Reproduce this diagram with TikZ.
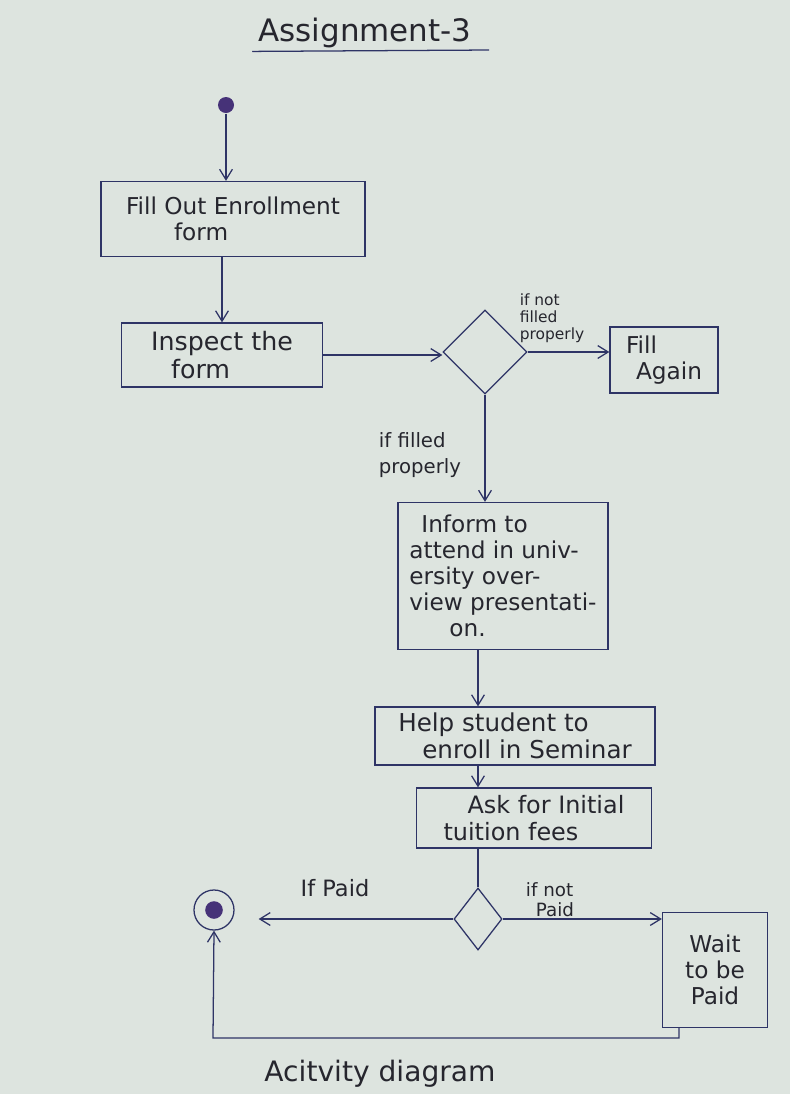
\documentclass[tikz,border=0pt]{standalone}
\usepackage{fontspec}
\setmainfont{DejaVu Sans}
\usetikzlibrary{shapes.geometric,arrows.meta}
\definecolor{paper}{RGB}{221,228,223}
\definecolor{ink}{RGB}{46,52,102}
\definecolor{pen}{RGB}{38,38,46}
\definecolor{dot}{RGB}{70,50,120}
\begin{document}
\begin{tikzpicture}[x=0.025cm,y=-0.025cm,
        >={Straight Barb[length=2.6mm,width=3.2mm]},
        line width=0.9pt,
        act node/.style={rectangle,draw=ink,text=pen,inner sep=3pt,align=left,
                         font=\fontsize{16.5}{18.5}\selectfont},
        decision/.style={diamond,draw=ink,inner sep=0pt,aspect=1},
        guard/.style={text=pen,align=left,inner sep=0pt},
        flow/.style={draw=ink,->}]

        \fill[paper] (0,0) rectangle (790,1094);
        \useasboundingbox (0,0) rectangle (790,1094);

        % Title
        \node[guard,font=\fontsize{22}{26}\selectfont] (title) at (365,33) {Assignment-3};
        \draw[ink] ([xshift=-4pt,yshift=-2pt]title.south west) -- ([xshift=12pt,yshift=-1pt]title.south east);

        % Define vertices
        \node[circle,fill=dot,minimum size=0.4cm,inner sep=0pt] (start) at (226,105) {};
        \node[act node,minimum width=6.6cm,minimum height=1.875cm] (fill) at (233,219)
            {Fill Out Enrollment\\\hspace*{1.2cm}form};
        \node[act node,minimum width=5.025cm,minimum height=1.6cm,font=\fontsize{18}{20}\selectfont] (inspect) at (222,355)
            {Inspect the\\\hspace*{0.5cm}form};
        \node[decision,minimum size=2.1cm] (check) at (485,352) {};
        \node[act node,minimum width=2.7cm,minimum height=1.65cm] (again) at (664,360)
            {Fill\\\hspace*{0.25cm}Again};
        \node[act node,minimum width=5.25cm,minimum height=3.675cm] (inform) at (503,576)
            {\hspace*{0.3cm}Inform to\\attend in univ-\\ersity over-\\view presentati-\\\hspace*{1cm}on.};
        \node[act node,minimum width=7cm,minimum height=1.45cm,font=\fontsize{17.5}{19}\selectfont] (help) at (515,736)
            {Help student to\\\hspace*{0.6cm}enroll in Seminar};
        \node[act node,minimum width=5.875cm,minimum height=1.5cm,font=\fontsize{17}{19}\selectfont] (ask) at (534,818)
            {\hspace*{0.6cm}Ask for Initial\\tuition fees};
        \node[decision,minimum width=1.2cm,minimum height=1.55cm,aspect=0.77] (paid) at (478,919) {};
        \node[act node,align=center,minimum width=2.625cm,minimum height=2.875cm] (wait) at (715,970)
            {Wait\\to be\\Paid};
        \node[circle,draw=ink,minimum size=1cm,inner sep=0pt,
              path picture={\fill[dot] (path picture bounding box.center) circle (0.22cm);}] (end) at (214,910) {};
        \coordinate (corner) at (213,1038);

        % Guards
        \node[guard,font=\fontsize{11}{12}\selectfont] (notok) at (552,318) {if not\\filled\\properly};
        \node[guard,font=\fontsize{14}{19}\selectfont] (ok) at (420,455) {if filled\\properly};
        \node[guard,font=\fontsize{16}{19}\selectfont] (yes) at (335,888) {If Paid};
        \node[guard,font=\fontsize{13}{14}\selectfont] (no) at (550,900) {if not\\\hspace*{0.25cm}Paid};

        % Draw edges
        \draw[flow] (start) -- (start |- fill.north);
        \draw[flow] (fill.south -| inspect.north) -- (inspect.north);
        \draw[flow] (inspect.east) -- (inspect.east -| check.west);
        \draw[flow] (check.east) -- (check.east -| again.west);
        \draw[flow] (check.south) -- (check.south |- inform.north);
        \draw[flow] (inform.south -| paid) -- (help.north -| paid);
        \draw[flow] (help.south -| paid) -- (ask.north -| paid);
        \draw[ink] (ask.south -| paid) -- (paid.north);
        \draw[flow,shorten >=0.6cm] (paid.west) -- (paid.west -| end.east);
        \draw[flow] (paid.east) -- (paid.east -| wait.west);
        \draw[flow] ([xshift=-0.9cm]wait.south) |- (corner) -- (end.south);

        % Caption
        \node[guard,font=\fontsize{20}{24}\selectfont] (caption) at (380,1074) {Acitvity diagram};

\end{tikzpicture}
\end{document}
